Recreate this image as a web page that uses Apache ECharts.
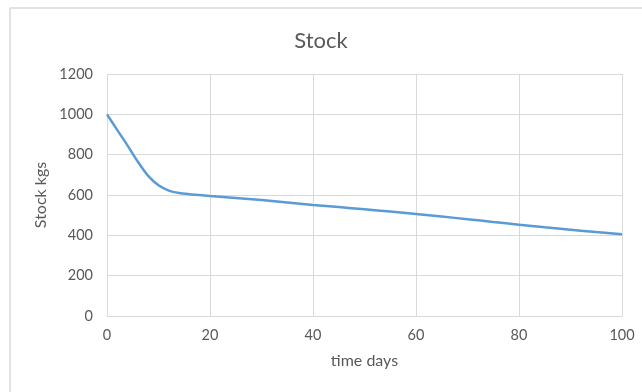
<!DOCTYPE html>
<html>
<head>
<meta charset="utf-8">
<script src="https://cdn.jsdelivr.net/npm/echarts@6/dist/echarts.min.js"></script>
<style>
  html, body { margin: 0; padding: 0; background: #fff; }
  #chart { width: 642px; height: 392px; }
</style>
</head>
<body>
<div id="chart"></div>
<script>
// Stock level over time (days)
const days  = [0, 2, 4, 6, 8, 10, 12, 14, 16, 18, 20, 25, 30, 35, 40, 45, 50, 55, 60, 65, 70, 75, 80, 85, 90, 95, 100];
const stock = [1000, 922, 845, 765, 695, 648, 622, 610, 604, 600, 595, 585, 575, 563, 551, 540, 529, 518, 506, 493, 480, 466, 453, 440, 428, 416, 405];
const xTicks = [0, 20, 40, 60, 80, 100];
const yTicks = [0, 200, 400, 600, 800, 1000, 1200];

const FONT = 'Lato, "Open Sans", sans-serif';
const TEXT = '#595959';
const GRID = '#d9d9d9';

const chart = echarts.init(document.getElementById('chart'), null, { renderer: 'canvas' });

chart.setOption({
  animation: false,
  backgroundColor: '#fff',
  textStyle: { fontFamily: FONT },
  title: {
    text: 'Stock',
    left: 'center',
    top: 25,
    textStyle: { fontFamily: FONT, fontSize: 22, fontWeight: 'normal', color: TEXT }
  },
  graphic: [
    { type: 'line', shape: { x1: 10, y1: 8, x2: 642, y2: 8 }, style: { stroke: GRID, lineWidth: 1.5 } },
    { type: 'line', shape: { x1: 10, y1: 8, x2: 10, y2: 392 }, style: { stroke: GRID, lineWidth: 1.5 } }
  ],
  grid: { left: 107, right: 20, top: 74, bottom: 76 },
  xAxis: {
    type: 'value',
    min: xTicks[0],
    max: xTicks[xTicks.length - 1],
    interval: 20,
    name: 'time days',
    nameLocation: 'middle',
    nameGap: 37,
    nameTextStyle: { fontFamily: FONT, fontSize: 16, color: TEXT },
    axisLine: { show: true, lineStyle: { color: GRID, width: 1 } },
    axisTick: { show: false },
    axisLabel: { fontFamily: FONT, fontSize: 14.5, color: TEXT, margin: 12, formatter: v => String(v) },
    splitLine: { show: true, lineStyle: { color: GRID, width: 1 } }
  },
  yAxis: {
    type: 'value',
    min: yTicks[0],
    max: yTicks[yTicks.length - 1],
    interval: 200,
    name: 'Stock kgs',
    nameLocation: 'middle',
    nameGap: 55,
    nameTextStyle: { fontFamily: FONT, fontSize: 16, color: TEXT },
    axisLine: { show: false },
    axisTick: { show: false },
    axisLabel: { fontFamily: FONT, fontSize: 14.5, color: TEXT, margin: 14, formatter: v => String(v) },
    splitLine: { show: true, lineStyle: { color: GRID, width: 1 } }
  },
  series: [{
    type: 'line',
    data: days.map((d, i) => [d, stock[i]]),
    smooth: 0.3,
    symbol: 'none',
    lineStyle: { color: '#5B9BD5', width: 2.5 }
  }]
});
</script>
</body>
</html>
